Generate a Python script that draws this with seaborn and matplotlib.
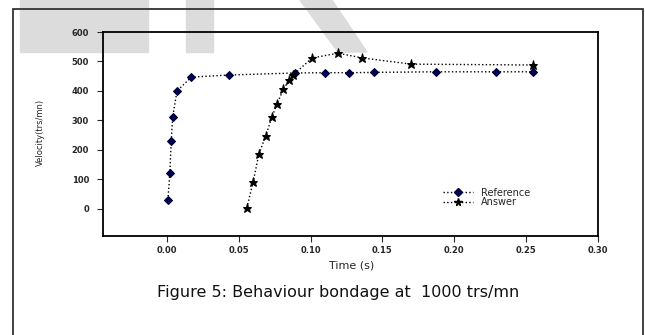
#!/usr/bin/env python

# Modules
import matplotlib
matplotlib.use('Agg')
import matplotlib.pyplot as plt
from matplotlib.lines import Line2D
from matplotlib.patches import Rectangle, Polygon
import pandas as pd
import seaborn as sns

# Data
ref_time = [0.0007, 0.002, 0.003, 0.004, 0.007, 0.017, 0.043, 0.089, 0.110, 0.127, 0.144, 0.187, 0.229, 0.255]
ref_velocity = [30, 122, 230, 312, 400, 447, 454, 461, 462, 462, 463, 465, 465, 465]

ans_time = [0.0556, 0.060, 0.064, 0.0687, 0.073, 0.0766, 0.081, 0.085, 0.088, 0.101, 0.119, 0.136, 0.170, 0.255]
ans_velocity = [3, 92, 186, 247, 311, 356, 405, 437, 455, 512, 528, 512, 491, 488]

x_ticks = [0.00, 0.05, 0.10, 0.15, 0.20, 0.25, 0.30]
y_ticks = [0, 100, 200, 300, 400, 500, 600]

df_ref = pd.DataFrame({'time': ref_time, 'velocity': ref_velocity})
df_ans = pd.DataFrame({'time': ans_time, 'velocity': ans_velocity})

sns.set_style('white')
plt.rcParams['font.family'] = ['DejaVu Sans']

fig = plt.figure(figsize=(6.45, 3.35), dpi=100)

# grey watermark fragments and outer frame (behind the axes)
grey = '#dcdcdc'
fig.patches.append(Rectangle((20 / 645, 1 - 52 / 335), 128 / 645, 52 / 335,
                             transform=fig.transFigure, color=grey, zorder=0))
fig.patches.append(Rectangle((186 / 645, 1 - 52 / 335), 27 / 645, 52 / 335,
                             transform=fig.transFigure, color=grey, zorder=0))
fig.patches.append(Polygon([(300 / 645, 1), (332 / 645, 1), (367 / 645, 1 - 52 / 335), (338 / 645, 1 - 52 / 335)],
                           closed=True, transform=fig.transFigure, color=grey, zorder=0))
fig.patches.append(Rectangle((13 / 645, -0.1), 630 / 645, 1.1 - 9 / 335,
                             transform=fig.transFigure, fill=False, edgecolor='#333333', lw=1.3, zorder=1))

ax = fig.add_axes([103 / 645, 1 - 236 / 335, 495 / 645, 204 / 335])
ax.set_zorder(2)
ax.patch.set_facecolor('none')

sns.lineplot(data=df_ref, x='time', y='velocity', ax=ax, color='black', linestyle=':', lw=1,
             marker='D', markersize=4.5, markerfacecolor='#000055', markeredgecolor='#000033')
sns.lineplot(data=df_ans, x='time', y='velocity', ax=ax, color='black', linestyle=':', lw=1,
             marker='*', markersize=6.5, markerfacecolor='black', markeredgecolor='black')

ax.set_xlim(-0.0445, 0.30)
ax.set_ylim(-92, 600)
ax.set_xticks(x_ticks)
ax.set_xticklabels([f'{t:.2f}' for t in x_ticks])
ax.set_yticks(y_ticks)
ax.set_yticklabels([str(v) for v in y_ticks])
ax.tick_params(axis='both', direction='out', length=4, width=0.8, labelsize=6,
               bottom=True, left=True)
ax.tick_params(axis='x', pad=3)
ax.tick_params(axis='y', pad=6)
for lab in ax.get_xticklabels() + ax.get_yticklabels():
    lab.set_fontweight('bold')
for s in ax.spines.values():
    s.set_color('black')
    s.set_linewidth(1.3)
ax.set_xlabel('')
ax.set_ylabel('')

handles = [
    Line2D([], [], color='black', linestyle=':', lw=1, marker='D', markersize=4,
           markerfacecolor='#000055', markeredgecolor='#000033'),
    Line2D([], [], color='black', linestyle=':', lw=1, marker='*', markersize=5.5,
           markerfacecolor='black', markeredgecolor='black'),
]
ax.legend(handles, ['Reference', 'Answer'], loc='upper left', bbox_to_anchor=(0.68, 0.255),
          frameon=False, fontsize=7, handlelength=3.0, handletextpad=0.9,
          labelspacing=-0.05, borderaxespad=0)

fig.text(352 / 645, 1 - 266 / 335, 'Time (s)', ha='center', va='center', fontsize=8)
fig.text(40 / 645, 1 - 132 / 335, 'Velocity(trs/mn)', ha='center', va='center',
         rotation=90, fontsize=6)
fig.text(338 / 645, 1 - 293 / 335, 'Figure 5: Behaviour bondage at  1000 trs/mn',
         ha='center', va='center', fontsize=11.5, color='#111111')

fig.savefig('out.png', dpi=100)
